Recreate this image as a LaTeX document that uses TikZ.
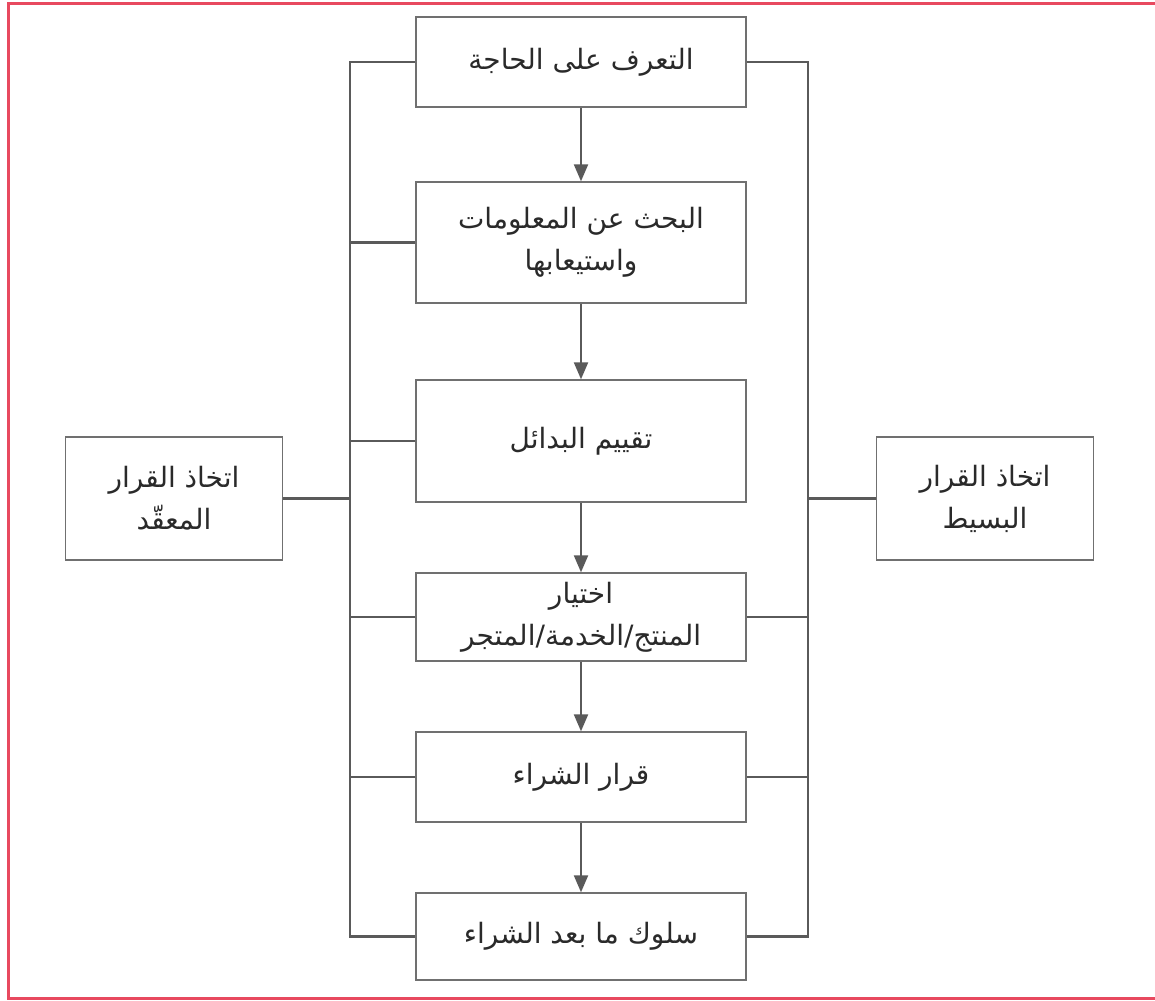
\documentclass[tikz,border=0pt]{standalone}
\usepackage{fontspec}
\usetikzlibrary{arrows.meta}
\TeXXeTstate=1
\newfontfamily\arabicfont[Script=Arabic]{DejaVu Sans}
\definecolor{frame}{HTML}{E8495F}
\definecolor{boxline}{HTML}{707070}
\definecolor{busline}{HTML}{5A5A5A}
\definecolor{txt}{HTML}{2A2A2A}
\tikzset{
  stage/.style={draw=boxline, line width=1.4pt, fill=white, minimum width=330pt, inner sep=0pt, align=center, text=txt, font=\arabicfont\fontsize{28}{42}\selectfont},
  side/.style={stage, minimum width=217pt, minimum height=123pt},
  bus/.style={draw=busline, line width=2.6pt},
  flow/.style={draw=busline, line width=2.2pt, -{Triangle[length=17pt,width=14pt]}},
}
\begin{document}
\begin{tikzpicture}[x=1pt,y=-1pt]
\useasboundingbox (0,0) rectangle (1155,1000);
\fill[white] (0,0) rectangle (1155,1000);
% frame
\draw[frame, line width=3pt] (1155,3.5) -- (8,3.5) -- (8,998) -- (1155,998);
% nodes
\node[stage, minimum height=90pt] (b1) at (581,62) {\beginR التعرف على الحاجة\endR};
\node[stage, minimum height=121pt] (b2) at (581,242.5) {\beginR البحث عن المعلومات\endR\\\beginR واستيعابها\endR};
\node[stage, minimum height=122pt] (b3) at (581,441) {\beginR تقييم البدائل\endR};
\node[stage, minimum height=88pt] (b4) at (581,617) {\beginR اختيار\endR\\\beginR المنتج/الخدمة/المتجر\endR};
\node[stage, minimum height=90pt] (b5) at (581,777) {\beginR قرار الشراء\endR};
\node[stage, minimum height=87pt] (b6) at (581,936.5) {\beginR سلوك ما بعد الشراء\endR};
\node[side] (lbox) at (174,498.5) {\beginR اتخاذ القرار\endR\\\beginR المعقّد\endR};
\node[side] (rbox) at (985,498.5) {\beginR اتخاذ القرار\endR\\\beginR البسيط\endR};
\coordinate (lx) at (350,0);
\coordinate (rx) at (808,0);
% flow arrows
\draw[flow] (b1.south) -- (b2.north);
\draw[flow] (b2.south) -- (b3.north);
\draw[flow] (b3.south) -- (b4.north);
\draw[flow] (b4.south) -- (b5.north);
\draw[flow] (b5.south) -- (b6.north);
% left bus
\draw[bus] (b1.west) -- (b1.west -| lx) -- (b6.west -| lx) -- (b6.west);
\draw[bus] (b2.west) -- (b2.west -| lx);
\draw[bus] (b3.west) -- (b3.west -| lx);
\draw[bus] (b4.west) -- (b4.west -| lx);
\draw[bus] (b5.west) -- (b5.west -| lx);
\draw[bus] (lbox.east) -- (lbox.east -| lx);
% right bus
\draw[bus] (b1.east) -- (b1.east -| rx) -- (b6.east -| rx) -- (b6.east);
\draw[bus] (b4.east) -- (b4.east -| rx);
\draw[bus] (b5.east) -- (b5.east -| rx);
\draw[bus] (rbox.west) -- (rbox.west -| rx);
\end{tikzpicture}
\end{document}
